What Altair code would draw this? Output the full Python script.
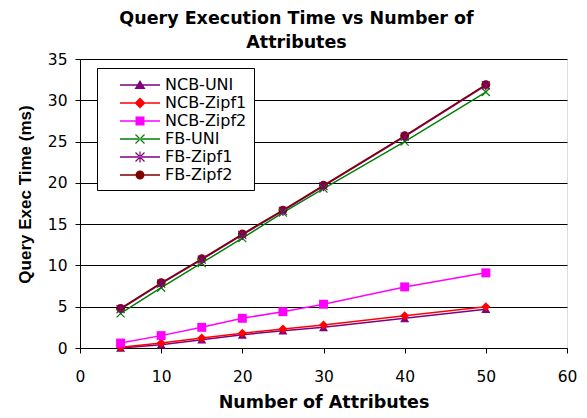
import altair as alt
import pandas as pd

# ---- data ----
attributes = [5, 10, 15, 20, 25, 30, 40, 50]
series_names = ["NCB-UNI", "NCB-Zipf1", "NCB-Zipf2", "FB-UNI", "FB-Zipf1", "FB-Zipf2"]
ncb_uni = [0.0, 0.4, 1.0, 1.6, 2.1, 2.5, 3.6, 4.7]
ncb_zipf1 = [0.1, 0.6, 1.2, 1.8, 2.3, 2.8, 3.9, 5.0]
ncb_zipf2 = [0.6, 1.5, 2.5, 3.6, 4.4, 5.3, 7.4, 9.1]
fb_uni = [4.2, 7.3, 10.3, 13.3, 16.4, 19.3, 25.0, 31.0]
fb_zipf1 = [4.7, 7.8, 10.7, 13.7, 16.6, 19.6, 25.6, 31.8]
fb_zipf2 = [4.8, 7.9, 10.8, 13.8, 16.7, 19.7, 25.7, 31.9]
x_ticks = [0, 10, 20, 30, 40, 50, 60]
y_ticks = [0, 5, 10, 15, 20, 25, 30, 35]

series_values = [ncb_uni, ncb_zipf1, ncb_zipf2, fb_uni, fb_zipf1, fb_zipf2]
rows = []
for name, vals in zip(series_names, series_values):
    for a, v in zip(attributes, vals):
        rows.append({"series": name, "attributes": a, "time": v})
df = pd.DataFrame(rows)

colors = ["#800080", "#FF0000", "#FF00FF", "#008000", "#800080", "#800000"]
filled_series = ["NCB-UNI", "NCB-Zipf1", "NCB-Zipf2", "FB-Zipf2"]
open_series = ["FB-UNI", "FB-Zipf1"]


# ---- marker paths (style only) ----
def bar(x1, y1, x2, y2, t):
    dx, dy = x2 - x1, y2 - y1
    ln = (dx * dx + dy * dy) ** 0.5
    nx, ny = -dy / ln * t, dx / ln * t
    return (f"M{x1+nx:.3f},{y1+ny:.3f}L{x2+nx:.3f},{y2+ny:.3f}"
            f"L{x2-nx:.3f},{y2-ny:.3f}L{x1-nx:.3f},{y1-ny:.3f}Z")


cx = 2.6
line_p = "M0.6,-0.075L4.6,-0.075L4.6,0.075L0.6,0.075Z"
leg_tri = f"M{cx},-0.5L{cx+0.55},0.4L{cx-0.55},0.4Z"
leg_dia = f"M{cx},-0.55L{cx+0.55},0L{cx},0.55L{cx-0.55},0Z"
leg_sq = f"M{cx-0.45},-0.45L{cx+0.45},-0.45L{cx+0.45},0.45L{cx-0.45},0.45Z"
leg_circ = f"M{cx-0.45},0A0.45,0.45 0 1,1 {cx+0.45},0A0.45,0.45 0 1,1 {cx-0.45},0Z"
leg_x = bar(cx-0.45, -0.45, cx+0.45, 0.45, 0.06) + bar(cx-0.45, 0.45, cx+0.45, -0.45, 0.06)
leg_ast = leg_x + bar(cx, -0.55, cx, 0.55, 0.06)
legend_shapes = [line_p + s for s in [leg_tri, leg_dia, leg_sq, leg_x, leg_ast, leg_circ]]

plot_x = "M-1,-1L1,1M-1,1L1,-1"
plot_ast = "M-1,-1L1,1M-1,1L1,-1M0,-1.25L0,1.25"
plot_shapes = ["triangle-up", "diamond", "square", plot_x, plot_ast, "circle"]

FONT = "DejaVu Sans"

x_enc = alt.X("attributes:Q", scale=alt.Scale(domain=[0, 60], nice=False),
              axis=alt.Axis(values=x_ticks, grid=False, domainColor="black", tickColor="black",
                            tickSize=5, labelFont=FONT, labelFontSize=15.5, labelColor="black",
                            labelBaseline="alphabetic", labelPadding=28, labelFlush=False,
                            title="Number of Attributes", titleFont=FONT, titleFontSize=17.5,
                            titleFontWeight="bold", titleColor="black", titleBaseline="alphabetic",
                            titleY=59))
y_enc = alt.Y("time:Q", scale=alt.Scale(domain=[0, 35], nice=False),
              axis=alt.Axis(values=y_ticks, grid=True, gridColor="black", gridWidth=1,
                            domainColor="black", tickColor="black", tickSize=5,
                            labelFont=FONT, labelFontSize=15.5, labelColor="black", labelPadding=8,
                            title="Query Exec Time (ms)", titleFont="Liberation Sans",
                            titleFontSize=17, titleFontWeight="bold", titleColor="black",
                            titleAngle=270, titleAlign="center", titleBaseline="middle",
                            titleX=-55, titleY=135))

cscale = alt.Scale(domain=series_names, range=colors)

base = alt.Chart(df)

lines = base.mark_line(strokeWidth=1.5).encode(
    x=x_enc, y=y_enc,
    color=alt.Color("series:N", scale=cscale, legend=None),
    detail="series:N",
)

pts_filled = base.transform_filter(
    alt.FieldOneOfPredicate(field="series", oneOf=filled_series)
).mark_point(filled=True, opacity=1, size=80, strokeWidth=0).encode(
    x=x_enc, y=y_enc,
    color=alt.Color("series:N", scale=cscale, legend=None),
    shape=alt.Shape("series:N", scale=alt.Scale(domain=series_names, range=plot_shapes), legend=None),
)

pts_open = base.transform_filter(
    alt.FieldOneOfPredicate(field="series", oneOf=open_series)
).mark_point(filled=False, opacity=1, size=64, strokeWidth=1.2).encode(
    x=x_enc, y=y_enc,
    color=alt.Color("series:N", scale=cscale, legend=None),
    shape=alt.Shape("series:N", scale=alt.Scale(domain=series_names, range=plot_shapes), legend=None),
)

leg_props = dict(title=None, orient="none", legendX=17, legendY=9, strokeColor="black",
                 fillColor="white", padding=7, labelFont=FONT, labelFontSize=16,
                 labelColor="black", labelOffset=41, symbolSize=400, symbolStrokeWidth=0,
                 symbolOffset=0, rowPadding=-0.8, labelBaseline="middle", cornerRadius=0)

legend_layer = base.transform_filter("false").mark_point(filled=True, opacity=1).encode(
    x=x_enc, y=y_enc,
    color=alt.Color("series:N", scale=cscale, legend=alt.Legend(**leg_props)),
    shape=alt.Shape("series:N", scale=alt.Scale(domain=series_names, range=legend_shapes),
                    legend=alt.Legend(**leg_props)),
)

chart = alt.layer(lines, pts_filled, pts_open, legend_layer).resolve_scale(
    color="independent", shape="independent"
).properties(
    width=487, height=289,
    autosize=alt.AutoSizeParams(type="none"),
    padding={"left": 72, "top": 51, "right": 12, "bottom": 62},
    title=alt.Title(text=["Query Execution Time vs Number of", "Attributes"], font=FONT,
                    fontSize=17.5, fontWeight="bold", color="black", anchor="middle",
                    dx=-27, lineHeight=24, offset=1),
).configure_view(stroke="#808080", strokeWidth=1).configure(background="white")

chart.save("out.html", embed_options={"renderer": "svg", "actions": False})
